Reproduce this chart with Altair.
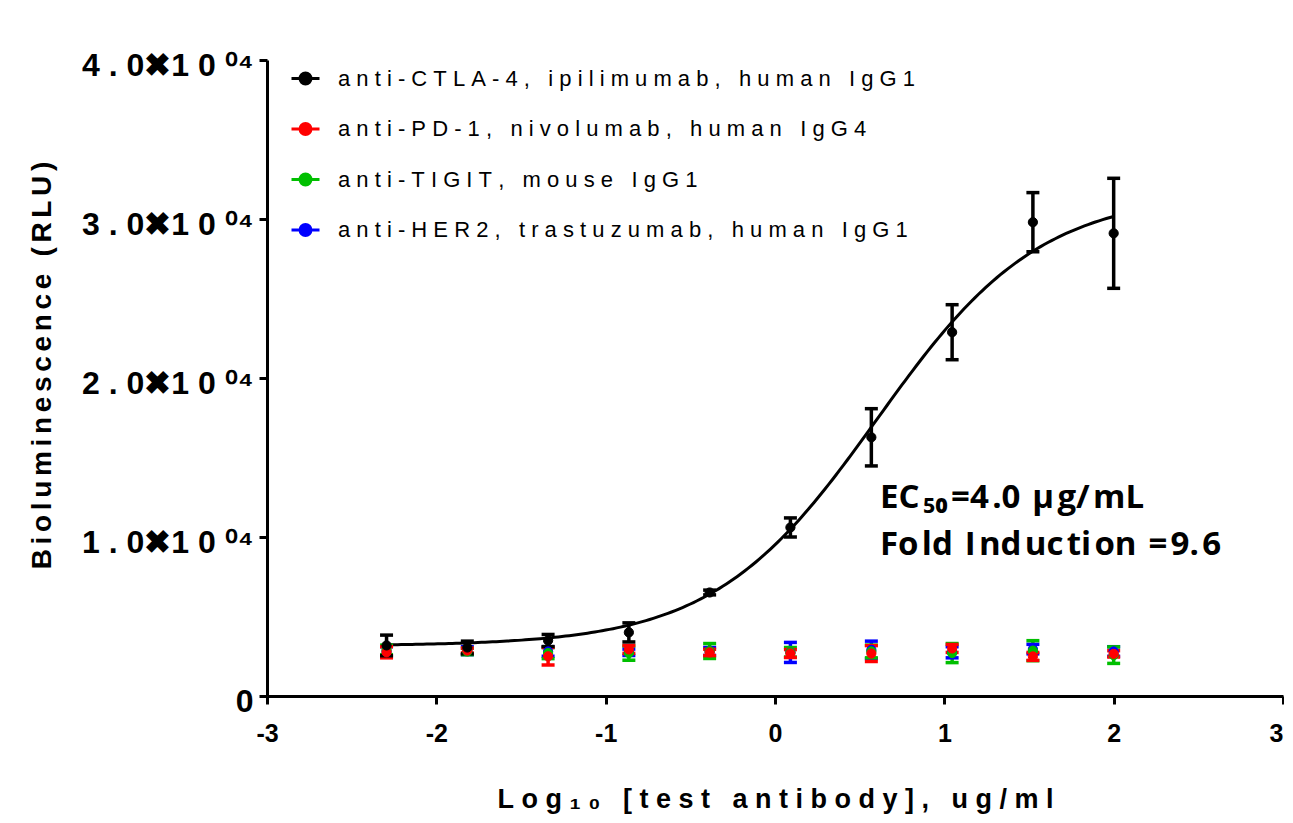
import altair as alt
import numpy as np
import pandas as pd

# ---- data ----
log_conc = [-2.294, -1.817, -1.340, -0.863, -0.386, 0.091, 0.569, 1.046, 1.523, 2.0]

series_names = [
    "anti-CTLA-4, ipilimumab, human IgG1",
    "anti-PD-1, nivolumab, human IgG4",
    "anti-TIGIT, mouse IgG1",
    "anti-HER2, trastuzumab, human IgG1",
]
series_colors = ["#000000", "#ff0000", "#00bf00", "#0000ff"]

ctla_mean = [3180, 3050, 3490, 4000, 6510, 10600, 16270, 22880, 29800, 29100]
ctla_err = [650, 400, 380, 600, 150, 600, 1800, 1730, 1860, 3460]
pd1_mean = [2750, 2860, 2500, 2930, 2740, 2670, 2670, 2990, 2490, 2650]
pd1_err = [350, 150, 550, 250, 200, 250, 500, 250, 250, 200]
tigit_mean = [2900, 2800, 2700, 2700, 2830, 2750, 2800, 2700, 2850, 2570]
tigit_err = [300, 200, 350, 450, 470, 300, 400, 600, 630, 520]
her2_mean = [2800, 2850, 2800, 2750, 2800, 2740, 2900, 2750, 2950, 2800]
her2_err = [300, 250, 300, 200, 250, 630, 550, 350, 300, 300]

# 4-parameter logistic fit of the CTLA-4 series (EC50 = 4.0 ug/mL)
fit_bottom = 3150
fit_top = 31650
fit_log_ec50 = np.log10(4.0)
fit_hill = 0.90

x_ticks = [-3, -2, -1, 0, 1, 2, 3]
y_ticks = [0, 10000, 20000, 30000, 40000]
y_tick_labels = ["0", "1.0\u271610\u2070\u2074", "2.0\u271610\u2070\u2074",
                 "3.0\u271610\u2070\u2074", "4.0\u271610\u2070\u2074"]

x_title = "Log\u2081\u2080 [test antibody], ug/ml"
y_title = "Bioluminescence (RLU)"
ann_lines = ["EC\u2085\u2080=4.0 \u00b5g/mL", "Fold Induction =9.6"]
ann_x = [0.62]
ann_y = [11800]

NB = "\u00a0"
HAIR = "\u200a"


def spread(s, sep=NB):
    return sep.join(s.replace(" ", NB))


def loosen(s):
    # a hair space after every second character
    return "".join(c + (HAIR if i % 2 == 1 and i < len(s) - 1 else "") for i, c in enumerate(s))


def ylab(s):
    if s == "0":
        return "0" + NB
    return s.replace(".", NB + "." + NB).replace("10\u2070", "1" + NB + "0" + NB + "\u2070")


disp_names = [spread(n) for n in series_names]

means = [ctla_mean, pd1_mean, tigit_mean, her2_mean]
errs = [ctla_err, pd1_err, tigit_err, her2_err]

rows = []
for order_i, k in enumerate([3, 2, 1, 0]):
    for xv, m, e in zip(log_conc, means[k], errs[k]):
        rows.append({"series": disp_names[k], "x": xv, "y": m, "lo": m - e, "hi": m + e, "ord": order_i})
df = pd.DataFrame(rows)

cx = np.linspace(log_conc[0], log_conc[-1], 200)
cy = fit_bottom + (fit_top - fit_bottom) / (1 + 10 ** ((fit_log_ec50 - cx) * fit_hill))
curve_df = pd.DataFrame({"x": cx, "y": cy})

ann_df = pd.DataFrame({"x": ann_x, "y": ann_y})

# ---- encodings ----
label_expr = " : ".join(
    [f"datum.value == {v} ? '{ylab(l)}'" for v, l in zip(y_ticks, y_tick_labels)]
) + " : ''"

xscale = alt.Scale(domain=[-3, 3], nice=False, zero=False)
yscale = alt.Scale(domain=[0, 40000], nice=False)

xaxis = alt.Axis(
    values=x_ticks, labelExpr="toString(datum.value)", labelFlush=False,
    labelAlign={"condition": {"test": f"datum.value == {x_ticks[-1]}", "value": "right"}, "value": "center"},
    labelFont="Liberation Sans", labelFontSize=25, labelFontWeight="bold",
    labelPadding=17, tickSize=8, tickWidth=3, domainWidth=3,
    titleFont="Liberation Sans", titleFontSize=27, titleFontWeight="bold",
    titleX=508, titleY=111, titleBaseline="alphabetic",
)
yaxis = alt.Axis(
    values=y_ticks, labelExpr=label_expr, labelFlush=False,
    labelFont="Liberation Sans", labelFontSize=32, labelFontWeight="bold",
    labelPadding=6, labelOffset=5, tickSize=8, tickWidth=3, domainWidth=3,
    titleFont="Liberation Sans", titleFontSize=28, titleFontWeight="bold",
    titleAngle=270, titleX=-217, titleY=305, titleBaseline="alphabetic", titleAlign="center",
)

X = alt.X("x:Q", scale=xscale, axis=xaxis, title=spread(x_title))


def Y(field):
    return alt.Y(field, scale=yscale, axis=yaxis, title=spread(y_title, "\u2006"))


def cscale():
    return alt.Scale(domain=disp_names, range=series_colors)


sym_path = "M-1,0L1,0M0.39,0A0.39,0.39,0,1,1,-0.39,0A0.39,0.39,0,1,1,0.39,0Z"


def make_legend():
    return alt.Legend(
        title=None, orient="none", legendX=23, legendY=3,
        symbolType=sym_path, symbolSize=784, symbolStrokeWidth=3, symbolOpacity=1,
        labelFont="Liberation Sans", labelFontSize=22, labelColor="black",
        labelLimit=2000, labelOffset=17, rowPadding=23.5, padding=0,
    )


base = alt.Chart(df)

curve = alt.Chart(curve_df).mark_line(color="black", strokeWidth=3).encode(x=X, y=Y("y:Q"))

bars = base.mark_rule(strokeWidth=3.5).encode(
    x=X, y=Y("lo:Q"), y2="hi:Q",
    stroke=alt.Stroke("series:N", scale=cscale(), legend=make_legend()),
    order=alt.Order("ord:Q"),
)

caps = base.transform_fold(["lo", "hi"], as_=["which", "cap"]).mark_tick(
    orient="horizontal", size=13, thickness=3.5, opacity=1
).encode(
    x=X, y=Y("cap:Q"),
    fill=alt.Fill("series:N", scale=cscale(), legend=make_legend()),
    order=alt.Order("ord:Q"),
)

points = base.mark_point(filled=True, size=85, opacity=1, strokeWidth=1).encode(
    x=X, y=Y("y:Q"),
    fill=alt.Fill("series:N", scale=cscale(), legend=make_legend()),
    stroke=alt.Stroke("series:N", scale=cscale(), legend=make_legend()),
    order=alt.Order("ord:Q"),
)

ann = alt.Chart(ann_df).mark_text(
    text=[loosen(s) for s in ann_lines], align="left", baseline="alphabetic",
    font="Open Sans", fontSize=33, fontWeight="bold", lineHeight=47, color="black",
).encode(x=X, y=Y("y:Q"))

chart = alt.layer(curve, bars, caps, points, ann).properties(
    width=1016, height=636,
    autosize=alt.AutoSizeParams(type="none"),
    padding={"left": 259, "top": 52, "right": 1, "bottom": 118},
    background="white",
).configure_view(stroke=None).configure_axis(
    grid=False, domainColor="black", tickColor="black", labelColor="black", titleColor="black"
)

chart.save("out.html", embed_options={"renderer": "svg", "actions": False})
